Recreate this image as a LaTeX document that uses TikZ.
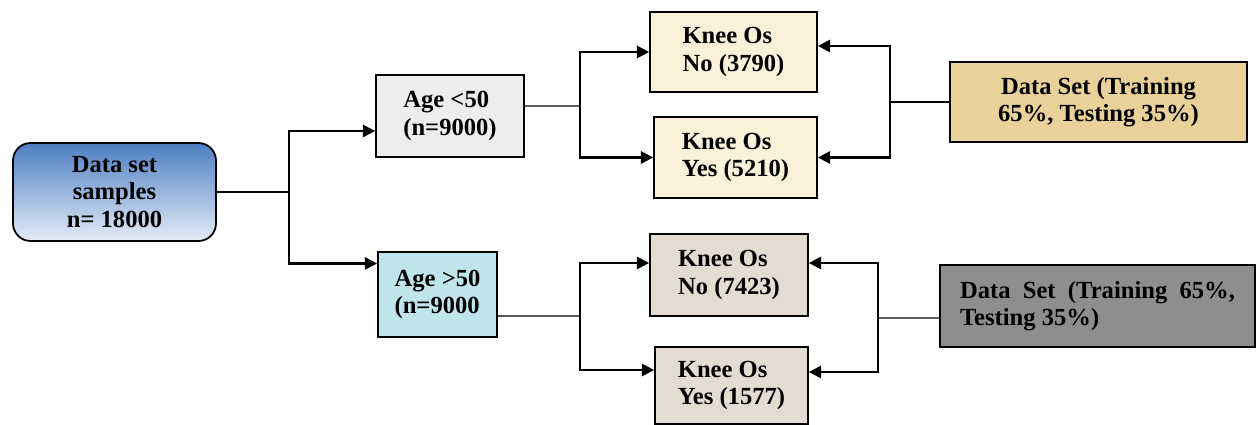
\documentclass[tikz,border=0pt]{standalone}
\usepackage{fontspec}
\setmainfont{Liberation Serif}
\usepackage{xcolor}
\usetikzlibrary{positioning, arrows.meta, calc}

\definecolor{rootblue}{HTML}{4E7FC2}
\definecolor{rootpale}{HTML}{E3ECF8}
\definecolor{youngfill}{HTML}{EDEDED}
\definecolor{oldfill}{HTML}{BDE5EB}
\definecolor{kneecream}{HTML}{FBF1DA}
\definecolor{kneestone}{HTML}{E2DCD1}
\definecolor{splittan}{HTML}{E9D29A}
\definecolor{splitgrey}{HTML}{8E8E8E}

\begin{document}
\begin{tikzpicture}[
    every node/.style={align=center, font=\fontsize{14}{15.5}\selectfont\bfseries},
    stage/.style={rectangle, draw, line width=1pt, inner sep=2pt},
    link/.style={draw, line width=0.7pt},
    feed/.style={draw, line width=1.3pt, -{Triangle[length=7pt,width=7pt]}}
]
    \useasboundingbox (0,0) rectangle (25.12,8.5);

    \node[stage, rounded corners=10pt, top color=rootblue, bottom color=rootpale,
          minimum width=4.06cm, minimum height=1.96cm] (root) at (2.29,4.66) {Data set\\samples\\n= 18000};

    \node[stage, fill=youngfill, align=left, minimum width=2.96cm, minimum height=1.64cm] (young) at (9.0,6.18) {Age <50\\(n=9000)};
    \node[stage, fill=oldfill, align=left, minimum width=2.38cm, minimum height=1.7cm] (old) at (8.75,2.61) {Age >50\\(n=9000};

    \node[stage, fill=kneecream, align=left, minimum width=3.34cm, minimum height=1.6cm] (kno) at (14.67,7.46) {Knee Os\\No (3790)};
    \node[stage, fill=kneecream, align=left, minimum width=3.26cm, minimum height=1.62cm] (kyes) at (14.71,5.35) {Knee Os\\Yes (5210)};
    \node[stage, fill=kneestone, align=left, minimum width=3.16cm, minimum height=1.64cm] (ono) at (14.58,3.0) {Knee Os\\No (7423)};
    \node[stage, fill=kneestone, align=left, minimum width=3.06cm, minimum height=1.54cm] (oyes) at (14.63,0.79) {Knee Os\\Yes (1577)};

    \node[stage, fill=splittan, minimum width=5.94cm, minimum height=1.6cm] (ds1) at (21.97,6.46) {Data Set (Training\\65\%, Testing 35\%)};
    \node[stage, fill=splitgrey, align=left, minimum width=6.3cm, minimum height=1.64cm] (ds2) at (21.95,2.38) {\makebox[5.5cm][s]{Data Set (Training 65\%,}\\Testing 35\%)};

    % age split
    \coordinate (split) at (5.78,4.66);
    \draw[link] (root.east) -- (split);
    \draw[feed] (split) |- ([yshift=-0.3cm]young.west);
    \draw[feed] (split) |- ([yshift=0.62cm]old.west);

    % knee classes
    \coordinate (ysplit) at (11.6,6.38);
    \draw[link] ([yshift=0.2cm]young.east) -- (ysplit);
    \draw[feed] (ysplit) |- (kno.west);
    \draw[feed] (ysplit) |- (kyes.west);

    \coordinate (osplit) at (11.6,2.18);
    \draw[link] ([yshift=-0.43cm]old.east) -- (osplit);
    \draw[feed] (osplit) |- ([yshift=0.24cm]ono.west);
    \draw[feed] (osplit) |- ([yshift=0.31cm]oyes.west);

    % training / testing sets
    \coordinate (tsplit) at (17.8,6.46);
    \draw[link] (ds1.west) -- (tsplit);
    \draw[feed] (tsplit) |- ([yshift=0.12cm]kno.east);
    \draw[feed] (tsplit) |- (kyes.east);

    \coordinate (bsplit) at (17.56,2.14);
    \draw[link] ([yshift=-0.24cm]ds2.west) -- (bsplit);
    \draw[feed] (bsplit) |- ([yshift=0.24cm]ono.east);
    \draw[feed] (bsplit) |- ([yshift=0.27cm]oyes.east);
\end{tikzpicture}
\end{document}
